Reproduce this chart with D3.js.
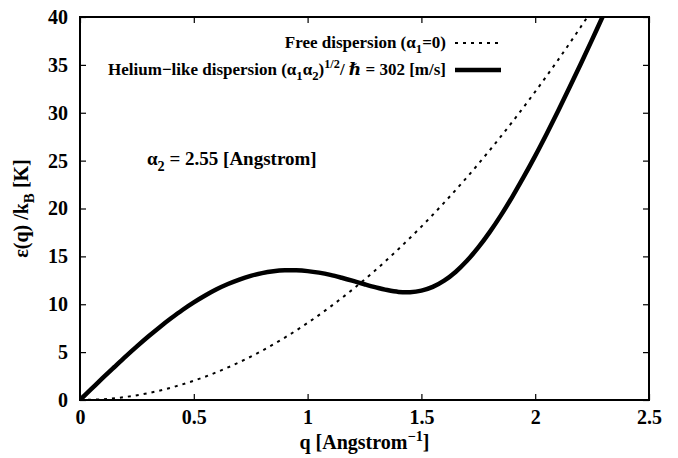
<!DOCTYPE html>
<html>
<head>
<meta charset="utf-8">
<script src="https://cdn.jsdelivr.net/npm/d3@7"></script>
<style>
  html, body { margin: 0; padding: 0; background: #fff; }
  svg text { font-family: "Liberation Serif", "DejaVu Serif", "Noto Serif", Tinos, serif; font-weight: 700; fill: #000; }
</style>
</head>
<body>
<svg id="chart" width="678" height="458"></svg>
<script>
// Wave vector q [1/Angstrom] and energies eps(q)/kB [K]
const qFree = [0, 0.1, 0.2, 0.3, 0.4, 0.5, 0.6, 0.7, 0.8, 0.9, 1.0, 1.1, 1.2,
               1.3, 1.4, 1.5, 1.6, 1.7, 1.8, 1.9, 2.0, 2.1, 2.2, 2.3];
const epsFree = [0, 0.08, 0.32, 0.72, 1.29, 2.01, 2.90, 3.94, 5.15, 6.52, 8.05, 9.74, 11.59,
                 13.60, 15.78, 18.11, 20.61, 23.26, 26.08, 29.06, 32.20, 35.50, 38.96, 42.58];

const qHe = [0, 0.05, 0.1, 0.15, 0.2, 0.25, 0.3, 0.35, 0.4, 0.45, 0.5, 0.55, 0.6, 0.65,
             0.7, 0.75, 0.8, 0.85, 0.9, 0.95, 1.0, 1.05, 1.1, 1.15, 1.2, 1.25, 1.3, 1.35,
             1.4, 1.45, 1.5, 1.55, 1.6, 1.65, 1.7, 1.75, 1.8, 1.85, 1.9, 1.95, 2.0, 2.05,
             2.1, 2.15, 2.2, 2.25, 2.3];
const epsHe = [0, 1.15, 2.30, 3.42, 4.53, 5.60, 6.63, 7.61, 8.53, 9.40, 10.19, 10.91, 11.56, 12.11,
               12.58, 12.96, 13.25, 13.44, 13.54, 13.54, 13.46, 13.30, 13.07, 12.77, 12.44, 12.09, 11.76, 11.48,
               11.29, 11.26, 11.42, 11.81, 12.46, 13.37, 14.54, 15.93, 17.53, 19.31, 21.25, 23.32, 25.50, 27.79,
               30.16, 32.60, 35.10, 37.64, 40.23];

const xTicks = [0, 0.5, 1, 1.5, 2, 2.5];
const xTickLabels = ["0", "0.5", "1", "1.5", "2", "2.5"];
const yTicks = [0, 5, 10, 15, 20, 25, 30, 35, 40];

const FONT = "'Liberation Serif', 'DejaVu Serif', 'Noto Serif', Tinos, serif";

const svg = d3.select("#chart");
const m = { left: 80, right: 29, top: 17, bottom: 58 };
const W = 678, H = 458;
const x = d3.scaleLinear().domain([0, 2.5]).range([m.left, W - m.right]);
const y = d3.scaleLinear().domain([0, 40]).range([H - m.bottom, m.top]);

svg.append("defs").append("clipPath").attr("id", "plotclip")
  .append("rect")
  .attr("x", x(0)).attr("y", y(40))
  .attr("width", x(2.5) - x(0)).attr("height", y(0) - y(40));

// Axes with inward ticks, mirrored on the opposite sides
const tickLen = 6;
const fs = 20;
const gxB = svg.append("g").attr("transform", `translate(0,${y(0)})`)
  .call(d3.axisBottom(x).tickValues(xTicks).tickSizeInner(-tickLen).tickSizeOuter(0)
        .tickPadding(10).tickFormat((d, i) => xTickLabels[i]));
const gxT = svg.append("g").attr("transform", `translate(0,${y(40)})`)
  .call(d3.axisTop(x).tickValues(xTicks).tickSizeInner(-tickLen).tickSizeOuter(0).tickFormat(""));
const gyL = svg.append("g").attr("transform", `translate(${x(0)},0)`)
  .call(d3.axisLeft(y).tickValues(yTicks).tickSizeInner(-tickLen).tickSizeOuter(0)
        .tickPadding(12).tickFormat(d3.format("d")));
const gyR = svg.append("g").attr("transform", `translate(${x(2.5)},0)`)
  .call(d3.axisRight(y).tickValues(yTicks).tickSizeInner(-tickLen).tickSizeOuter(0).tickFormat(""));

[gxB, gxT, gyL, gyR].forEach(g => {
  g.attr("font-family", FONT).attr("font-size", fs);
  g.select(".domain").remove();
  g.selectAll(".tick line").attr("stroke", "#000").attr("stroke-width", 1.2);
  g.selectAll("text").attr("font-size", fs).attr("font-family", FONT)
    .attr("font-weight", 700).attr("fill", "#000");
});
gxB.selectAll("text").attr("dy", "0.71em");

// Curves
const lineFree = d3.line().x((d, i) => x(qFree[i])).y(d => y(d)).curve(d3.curveCatmullRom);
const lineHe = d3.line().x((d, i) => x(qHe[i])).y(d => y(d)).curve(d3.curveCatmullRom);

const plot = svg.append("g").attr("clip-path", "url(#plotclip)");
plot.append("path").datum(epsFree)
  .attr("d", lineFree).attr("fill", "none").attr("stroke", "#000")
  .attr("stroke-width", 2).attr("stroke-dasharray", "3,5");
plot.append("path").datum(epsHe)
  .attr("d", lineHe).attr("fill", "none").attr("stroke", "#000")
  .attr("stroke-width", 4.5).attr("stroke-linejoin", "round");

// Frame
svg.append("rect")
  .attr("x", x(0)).attr("y", y(40))
  .attr("width", x(2.5) - x(0)).attr("height", y(0) - y(40))
  .attr("fill", "none").attr("stroke", "#000").attr("stroke-width", 2);

// Rich text pieces: [text, shift, italic] where shift is "sub", "sup" or ""
function rich(sel, parts, size) {
  let cur = 0;
  parts.forEach(p => {
    const [txt, kind, italic] = p;
    let target = 0, fsz = size;
    if (kind === "sub") { target = size * 0.3; fsz = size * 0.75; }
    if (kind === "sup") { target = -size * 0.4; fsz = size * 0.72; }
    const t = sel.append("tspan").attr("dy", target - cur).attr("font-size", fsz).text(txt);
    if (italic) t.attr("font-style", "italic");
    cur = target;
  });
}

function label(px, py, size, anchor) {
  return svg.append("text").attr("x", px).attr("y", py)
    .attr("font-family", FONT).attr("font-weight", 700)
    .attr("font-size", size).attr("text-anchor", anchor);
}

// Legend
const legX = 446, legS0 = 455, legS1 = 501;
const leg1y = 43, leg2y = 70;
const l1 = label(legX, leg1y + 5, 17, "end");
rich(l1, [["Free dispersion (α", ""], ["1", "sub"], ["=0)", ""]], 17);
svg.append("line").attr("x1", legS0).attr("x2", legS1).attr("y1", leg1y).attr("y2", leg1y)
  .attr("stroke", "#000").attr("stroke-width", 2).attr("stroke-dasharray", "3,5");

const l2 = label(legX, leg2y + 5, 17, "end");
rich(l2, [["Helium\u2212like dispersion (α", ""], ["1", "sub"], ["α", ""], ["2", "sub"], [")", ""],
          ["1/2", "sup"], ["/ ", ""], ["\u210F", "", true], [" = 302 [m/s]", ""]], 17);
svg.append("line").attr("x1", legS0).attr("x2", legS1).attr("y1", leg2y).attr("y2", leg2y)
  .attr("stroke", "#000").attr("stroke-width", 4.5);

// Parameter annotation
const ann = label(147, 165, 19, "start");
rich(ann, [["α", ""], ["2", "sub"], [" = 2.55 [Angstrom]", ""]], 19);

// Axis titles
const xt = label((x(0) + x(2.5)) / 2, 449, 20, "middle");
rich(xt, [["q [Angstrom", ""], ["\u22121", "sup"], ["]", ""]], 20);

const yt = svg.append("text")
  .attr("transform", `translate(28,${(y(0) + y(40)) / 2}) rotate(-90)`)
  .attr("font-family", FONT).attr("font-weight", 700)
  .attr("text-anchor", "middle").attr("font-size", 20);
rich(yt, [["ε(q) /k", ""], ["B", "sub"], [" [K]", ""]], 20);
</script>
</body>
</html>
